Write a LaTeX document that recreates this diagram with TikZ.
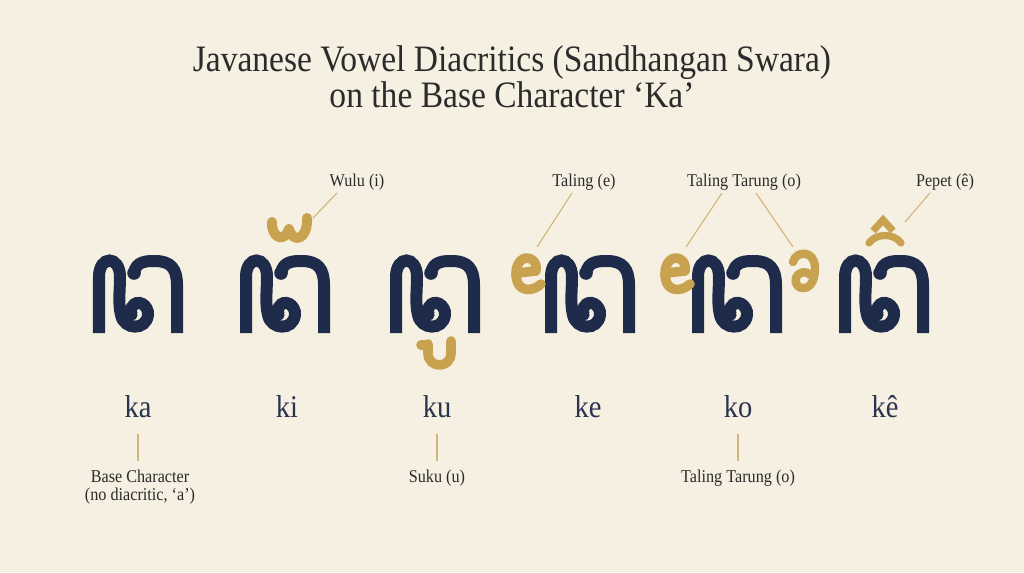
\documentclass[tikz,border=0pt]{standalone}
\usepackage{fontspec}
\setmainfont[FakeStretch=0.9]{Liberation Serif}

\definecolor{creme}{HTML}{F5F0E1}
\definecolor{navy}{HTML}{1E2B4A}
\definecolor{ouro}{HTML}{C9A24F}
\definecolor{guiacor}{HTML}{D3B57C}
\definecolor{texto}{HTML}{2B2B2B}
\definecolor{somcor}{HTML}{2A3450}

\tikzset{
  letra/.style={line width=0.3cm, color=navy, line cap=butt},
  sinal/.style={line width=0.22cm, color=ouro, line cap=round, line join=round},
  guia/.style={color=guiacor, line width=0.8pt},
  titulo/.style={font=\fontsize{26.5}{28}\selectfont, text=texto, anchor=base, inner sep=0pt},
  rotulo/.style={font=\fontsize{12.8}{15}\selectfont, text=texto, anchor=base, inner sep=0pt},
  som/.style={font=\fontsize{22.5}{24}\selectfont, text=somcor, anchor=base, inner sep=0pt},
  aksara/.pic={
    \draw[letra] (6,78) -- (6,22) .. controls (6,0) and (27,0) .. (27,22)
      .. controls (27,36) and (25,48) .. (28,60) .. controls (31,75) and (53,76) .. (55,60)
      .. controls (56,50) and (44,43) .. (39,52) .. controls (37,56) and (38,59) .. (39,60);
    \fill[navy] (39,60) circle (5.6);
    \draw[letra] (41,18) .. controls (43,6) and (54,6) .. (62,6)
      .. controls (78,6) and (84,14) .. (84,30) -- (84,78);
    \fill[navy] (41,18) circle (6.8);
  }
}

\begin{document}
\begin{tikzpicture}[x=0.025cm, y=-0.025cm]
    % Fundo
    \fill[creme] (0,0) rectangle (1024,572);
    \useasboundingbox (0,0) rectangle (1024,572);

    % Título
    \node[titulo] (titulo1) at (512,71) {Javanese Vowel Diacritics (Sandhangan Swara)};
    \node[titulo] (titulo2) at (512,107) {on the Base Character ‘Ka’};

    % Letras base (ka)
    \foreach \x in {93,240,390,545,692,839}
        \pic at (\x,255) {aksara};

    % Wulu (i)
    \draw[sinal, line width=0.25cm] (272,222) .. controls (271,237) and (284,244) .. (289,229)
        .. controls (293,244) and (308,240) .. (307,218);
    % Suku (u)
    \draw[sinal, line width=0.24cm] (428,344) -- (428,353) .. controls (428,369) and (451,369) .. (451,353) -- (451,341);
    \draw[sinal, line width=0.24cm] (421,345) -- (428,345);
    % Taling (e)
    \foreach \d in {0,149}
        \draw[sinal, line width=0.24cm] (517+\d,273) -- (536+\d,271)
            .. controls (538+\d,260) and (528+\d,256) .. (523+\d,259)
            .. controls (515+\d,263) and (514+\d,278) .. (519+\d,285)
            .. controls (524+\d,292) and (535+\d,290) .. (541+\d,284);
    % Tarung
    \draw[sinal, line width=0.21cm] (793,262) .. controls (796,250) and (815,250) .. (815,268)
        .. controls (815,285) and (807,289) .. (802,288) .. controls (795,287) and (793,278) .. (799,274)
        .. controls (803,271) and (808,272) .. (810,275);
    % Pepet (ê)
    \draw[sinal, line width=0.18cm, line cap=butt, line join=miter] (873,231) -- (883,220) -- (893,231);
    \draw[sinal, line width=0.18cm] (869,243) .. controls (876,233) and (894,233) .. (901,243);

    % Rótulos de cima
    \node[rotulo] (wulul) at (357,186) {Wulu (i)};
    \node[rotulo] (talingl) at (584,186) {Taling (e)};
    \node[rotulo] (tarungl) at (744,186) {Taling Tarung (o)};
    \node[rotulo] (pepetl) at (945,186) {Pepet (ê)};

    \coordinate (wulu) at (313,218);
    \coordinate (taling) at (537,247);
    \coordinate (taling2) at (686,247);
    \coordinate (tarung) at (793,247);
    \coordinate (pepet) at (905,222);

    \draw[guia] ([xshift=-14.2pt,yshift=-2pt]wulul.south) -- (wulu);
    \draw[guia] ([xshift=-8.5pt,yshift=-2pt]talingl.south) -- (taling);
    \draw[guia] ([xshift=-15.6pt,yshift=-2pt]tarungl.south) -- (taling2);
    \draw[guia] ([xshift=8.5pt,yshift=-2pt]tarungl.south) -- (tarung);
    \draw[guia] ([xshift=-10.7pt,yshift=-2pt]pepetl.south) -- (pepet);

    % Sílabas
    \foreach \x/\s/\n in {138/ka/ka, 287/ki/ki, 437/ku/ku, 588/ke/ke, 738/ko/ko, 885/kê/kee}
        \node[som] (\n) at (\x,417) {\s};

    % Rótulos de baixo
    \node[rotulo] (basel) at (140,482) {Base Character};
    \node[rotulo] (basel2) at (140,500) {(no diacritic, ‘a’)};
    \node[rotulo] (sukul) at (437,482) {Suku (u)};
    \node[rotulo] (tarungl2) at (738,482) {Taling Tarung (o)};

    \foreach \s/\r in {ka/basel, ku/sukul, ko/tarungl2} {
        \coordinate (\s-a) at ([yshift=-11.4pt]\s.south);
        \coordinate (\s-b) at ([yshift=5.7pt]\r.north);
        \draw[guia] (\s-a) -- (\s-a |- \s-b);
    }
\end{tikzpicture}
\end{document}
